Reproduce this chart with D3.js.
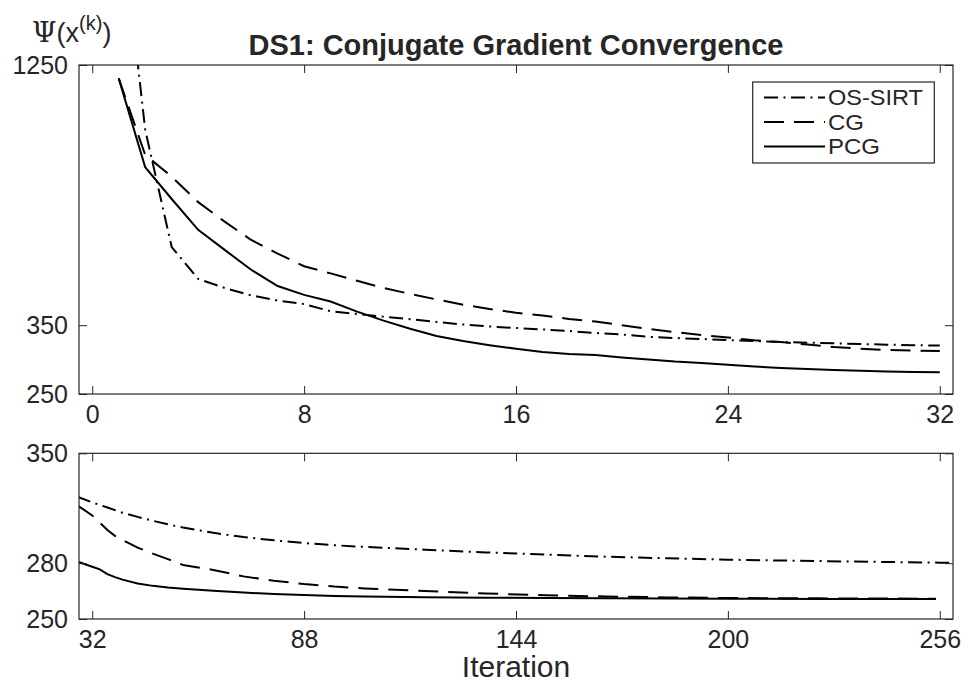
<!DOCTYPE html>
<html>
<head>
<meta charset="utf-8">
<script src="https://cdn.jsdelivr.net/npm/d3@7"></script>
<style>
  html, body { margin: 0; padding: 0; background: #fff; }
  svg { display: block; }
  text { font-family: "Liberation Sans", Arial, Helvetica, sans-serif; fill: #262626; }
</style>
</head>
<body>
<svg id="chart" width="968" height="686"></svg>
<script>
// ---------------- DATA ----------------
const seriesNames = ["OS-SIRT", "CG", "PCG"];

// Top panel: iterations 1..32
const iterTop = [1,2,3,4,5,6,7,8,9,10,11,12,13,14,15,16,17,18,19,20,21,22,23,24,25,26,27,28,29,30,31,32];
const osSirtTop = [2880, 910, 513, 439, 420, 405, 395, 388, 374.7, 369.8, 365, 360.5, 355.6, 351.2, 347.8, 345.3,
                   342.8, 340.2, 337, 334.5, 330.7, 328.8, 327.2, 325.6, 324, 322.4, 321.3, 320.4, 319.3, 318.2, 317.4, 316.8];
const cgTop = [1171, 805, 724, 639, 581, 531, 497, 467, 451, 435, 420, 408, 397, 387, 379, 372,
               367, 361, 356.5, 350, 343.6, 338.5, 333.7, 329.6, 325, 322.4, 318.5, 314.6, 312, 310, 309, 308.5];
const pcgTop = [1171, 758, 649, 558, 506, 459, 424, 406, 393, 374, 358, 344, 332, 324, 317.5, 312,
                307, 304, 302.5, 299, 296, 293, 291, 288.5, 286, 284, 282.5, 281, 280, 279, 278.5, 278];

// Bottom panel: iterations 28..256
const iterBot = [28, 32, 34, 36, 38, 40, 44, 48, 52, 56, 64, 72, 80, 88, 96, 104, 120, 136, 152, 168, 184, 200, 224, 255];
const iterBotOs = [28, 32, 36, 40, 44, 48, 52, 56, 64, 72, 80, 88, 96, 104, 120, 136, 152, 168, 184, 200, 224, 256, 260];
const osSirtBot = [320.5, 316.8, 313.5, 310.2, 307.6, 305.2, 303, 301, 297.8, 295.3, 293.3, 291.7, 290.4, 289.4,
                   287.8, 286.2, 284.9, 283.7, 282.8, 282, 281.2, 280.3, 280.2];
const cgBot = [315, 308.5, 304, 299.5, 296, 293.5, 289, 285.5, 282.3, 279, 276.2, 272.6, 270.2, 268.4, 267, 266,
               264.6, 263.3, 262.3, 261.7, 261.2, 260.9, 260.7, 260.5];
const pcgBot = [281, 278, 276.5, 273.8, 272.2, 270.8, 268.7, 267.4, 266.5, 265.9, 264.8, 263.8, 263, 262.5, 262, 261.7,
                261.3, 261, 260.9, 260.7, 260.6, 260.5, 260.4, 260.3];

// Ticks
const topXTicks = [0, 8, 16, 24, 32];
const topYTicks = [250, 350, 1250];
const botXTicks = [32, 88, 144, 200, 256];
const botYTicks = [250, 280, 350];

// ---------------- LAYOUT ----------------
const svg = d3.select("#chart");
const L = 79, R = 953;
const top1 = 65, bot1 = 394;
const top2 = 453.3, bot2 = 619;
const axisColor = "#262626";
const tickFont = 25;
const dashStyles = { "OS-SIRT": "14,5.5,2,5.5", "CG": "20,10", "PCG": null };
const legendWidths = { "OS-SIRT": 95, "CG": 36, "PCG": 52 };

const xTop = d3.scaleLinear().domain([-0.5, 32.5]).range([L, R]);
const yTop = d3.scaleLog().domain([250, 1250]).range([bot1, top1]);
const xBot = d3.scaleLinear().domain([28.5, 259.5]).range([L, R]);
const yBot = d3.scaleLog().domain([250, 350]).range([bot2, top2]);

const defs = svg.append("defs");
defs.append("clipPath").attr("id", "clipTop").append("rect")
  .attr("x", L).attr("y", top1).attr("width", R - L).attr("height", bot1 - top1);
defs.append("clipPath").attr("id", "clipBot").append("rect")
  .attr("x", L).attr("y", top2).attr("width", R - L).attr("height", bot2 - top2);

function drawPanel(x, y, xt, yt, yTop0, yBot0, clipId, series) {
  const g = svg.append("g");
  const lg = g.append("g").attr("clip-path", `url(#${clipId})`);
  series.forEach(s => {
    const line = d3.line().x((d, i) => x(s.xs[i])).y(d => y(d));
    lg.append("path")
      .attr("d", line(s.ys))
      .attr("fill", "none")
      .attr("stroke", "#000")
      .attr("stroke-width", 2)
      .attr("stroke-dasharray", dashStyles[s.name])
      .attr("stroke-linejoin", "miter");
  });
  const styleAxis = sel => {
    sel.select(".domain").remove();
    sel.selectAll(".tick line").attr("stroke", axisColor).attr("stroke-width", 1);
    sel.selectAll(".tick text").attr("font-size", tickFont)
      .attr("font-family", '"Liberation Sans", Arial, sans-serif').attr("fill", axisColor);
  };
  g.append("g").attr("transform", `translate(0,${yBot0})`)
    .call(d3.axisBottom(x).tickValues(xt).tickSize(-8).tickPadding(11).tickFormat(d3.format("d")))
    .call(styleAxis);
  g.append("g").attr("transform", `translate(0,${yTop0})`)
    .call(d3.axisTop(x).tickValues(xt).tickSize(-8).tickFormat(""))
    .call(styleAxis);
  g.append("g").attr("transform", `translate(${L},0)`)
    .call(d3.axisLeft(y).tickValues(yt).tickSize(-8).tickPadding(11).tickFormat(d3.format("d")))
    .call(styleAxis);
  g.append("g").attr("transform", `translate(${R},0)`)
    .call(d3.axisRight(y).tickValues(yt).tickSize(-8).tickFormat(""))
    .call(styleAxis);
  g.append("rect").attr("x", L).attr("y", yTop0).attr("width", R - L).attr("height", yBot0 - yTop0)
    .attr("fill", "none").attr("stroke", axisColor).attr("stroke-width", 1.2);
  return g;
}

drawPanel(xTop, yTop, topXTicks, topYTicks, top1, bot1, "clipTop", [
  { name: "OS-SIRT", xs: iterTop, ys: osSirtTop },
  { name: "CG", xs: iterTop, ys: cgTop },
  { name: "PCG", xs: iterTop, ys: pcgTop }
]);
drawPanel(xBot, yBot, botXTicks, botYTicks, top2, bot2, "clipBot", [
  { name: "OS-SIRT", xs: iterBotOs, ys: osSirtBot },
  { name: "CG", xs: iterBot, ys: cgBot },
  { name: "PCG", xs: iterBot, ys: pcgBot }
]);

// Legend
const leg = svg.append("g");
leg.append("rect").attr("x", 752.7).attr("y", 82).attr("width", 181.6).attr("height", 81)
  .attr("fill", "#fff").attr("stroke", axisColor).attr("stroke-width", 1.2);
const legY = [97.5, 122, 146.5];
seriesNames.forEach((n, i) => {
  leg.append("line").attr("x1", 764).attr("x2", 825).attr("y1", legY[i]).attr("y2", legY[i])
    .attr("stroke", "#000").attr("stroke-width", 2).attr("stroke-dasharray", dashStyles[n]);
  leg.append("text").attr("x", 828).attr("y", legY[i]).attr("dy", "0.35em")
    .attr("font-size", 21.5).attr("fill", "#000")
    .attr("textLength", legendWidths[n])
    .attr("lengthAdjust", "spacingAndGlyphs")
    .text(n);
});

// Title
svg.append("text").attr("x", 516).attr("y", 55).attr("text-anchor", "middle")
  .attr("font-size", 29).attr("font-weight", "bold").attr("fill", "#000")
  .text("DS1: Conjugate Gradient Convergence");

// Y label Ψ(x^(k))
const yl = svg.append("text").attr("x", 32).attr("y", 42).attr("fill", "#262626");
yl.append("tspan").attr("font-family", '"DejaVu Serif", "Liberation Serif", serif').attr("font-size", 28).text("Ψ");
yl.append("tspan").attr("font-size", 27).text("(x");
yl.append("tspan").attr("font-size", 20).attr("dy", -12).text("(k)");
yl.append("tspan").attr("font-size", 27).attr("dy", 12).text(")");

// X label
svg.append("text").attr("x", 516).attr("y", 677).attr("text-anchor", "middle")
  .attr("font-size", 30).text("Iteration");
</script>
</body>
</html>
